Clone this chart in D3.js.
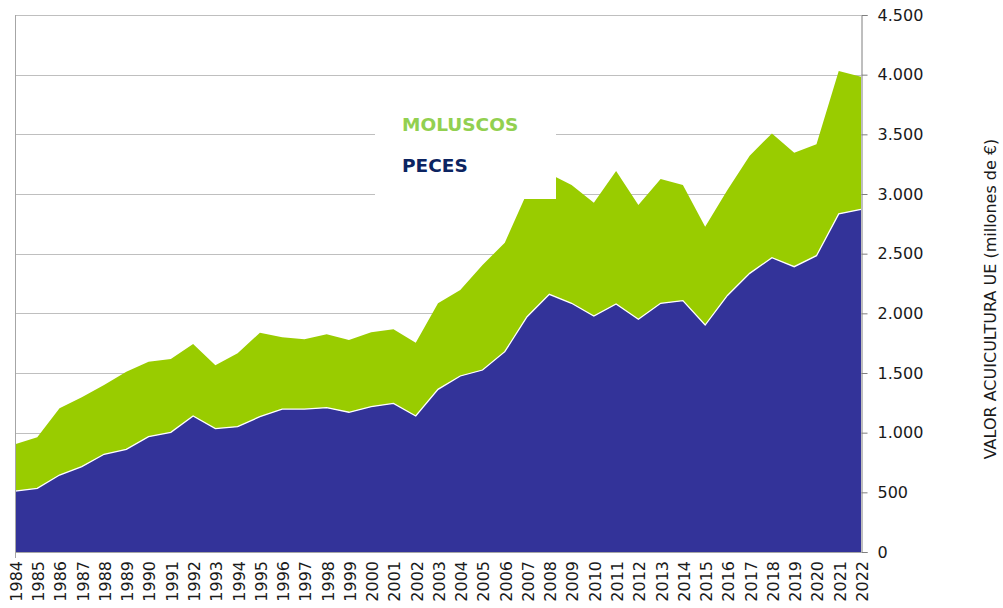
<!DOCTYPE html>
<html lang="es">
<head>
<meta charset="utf-8">
<script src="https://d3js.org/d3.v7.min.js"></script>
<style>
  body { margin: 0; background: #fff; }
  text { font-family: "DejaVu Sans", Verdana, sans-serif; }
</style>
</head>
<body>
<div id="chart"></div>
<script>
  // Years on the x axis
  const years = [1984, 1985, 1986, 1987, 1988, 1989, 1990, 1991, 1992, 1993,
    1994, 1995, 1996, 1997, 1998, 1999, 2000, 2001, 2002, 2003,
    2004, 2005, 2006, 2007, 2008, 2009, 2010, 2011, 2012, 2013,
    2014, 2015, 2016, 2017, 2018, 2019, 2020, 2021, 2022];

  // Valor (millones de €)
  const peces = [511, 534, 645, 715, 819, 860, 966, 1003, 1140, 1034,
    1050, 1134, 1198, 1198, 1209, 1171, 1218, 1246, 1140, 1363,
    1475, 1525, 1679, 1972, 2159, 2084, 1978, 2078, 1950, 2084,
    2106, 1902, 2150, 2335, 2466, 2391, 2483, 2833, 2872];

  const moluscos = [391, 427, 559, 581, 581, 651, 629, 614, 603, 530,
    615, 704, 601, 584, 615, 606, 623, 620, 614, 722,
    721, 880, 913, 1038, 1011, 991, 949, 1115, 958, 1042,
    970, 824, 884, 986, 1042, 955, 933, 1198, 1111];

  const yTicks = [0, 500, 1000, 1500, 2000, 2500, 3000, 3500, 4000, 4500];

  const seriesNames = ["MOLUSCOS", "PECES"];
  const seriesColors = {PECES: "#333399", MOLUSCOS: "#99cc00"};

  const svgWidth = 1003, svgHeight = 608;
  const margin = {top: 15, right: 142, bottom: 56, left: 15};
  const width = svgWidth - margin.left - margin.right;
  const height = svgHeight - margin.top - margin.bottom;

  const svg = d3.select("#chart")
    .append("svg")
    .attr("width", svgWidth)
    .attr("height", svgHeight);

  const g = svg.append("g")
    .attr("transform", "translate(" + margin.left + "," + margin.top + ")");

  const x = d3.scalePoint().domain(years).range([0, width]);
  const y = d3.scaleLinear().domain([0, 4500]).range([height, 0]);

  const locale = d3.formatLocale({decimal: ",", thousands: ".", grouping: [3], currency: ["", "€"]});
  const fmt = locale.format(",d");

  const table = years.map((yr, i) => ({year: yr, peces: peces[i], moluscos: moluscos[i]}));
  const stacked = d3.stack().keys(["peces", "moluscos"])(table);

  // gridlines
  g.append("g").selectAll("line").data(yTicks).enter().append("line")
    .attr("x1", 0).attr("x2", width)
    .attr("y1", d => Math.round(y(d)) + 0.5).attr("y2", d => Math.round(y(d)) + 0.5)
    .attr("stroke", "#bfbfbf");

  const area = d3.area()
    .x(d => x(d.data.year))
    .y0(d => y(d[0]))
    .y1(d => y(d[1]));

  g.append("path").datum(stacked[1])
    .attr("fill", seriesColors.MOLUSCOS)
    .attr("d", area);
  g.append("path").datum(stacked[0])
    .attr("fill", seriesColors.PECES)
    .attr("d", area);

  // white edge on top of peces
  g.append("path").datum(stacked[0])
    .attr("fill", "none")
    .attr("stroke", "#fff")
    .attr("stroke-width", 1.3)
    .attr("d", d3.line().x(d => x(d.data.year)).y(d => y(d[1])));

  // legend box (sits over the plot)
  g.append("rect")
    .attr("x", 360).attr("y", 80)
    .attr("width", 181).attr("height", 104)
    .attr("fill", "#fff");

  g.append("text").attr("x", 387).attr("y", 116)
    .attr("fill", "#92d050").attr("font-weight", "bold").attr("font-size", "18.5px")
    .text(seriesNames[0]);
  g.append("text").attr("x", 387).attr("y", 157)
    .attr("fill", "#0c2461").attr("font-weight", "bold").attr("font-size", "18.5px")
    .text(seriesNames[1]);

  // left edge and bottom line
  g.append("line").attr("x1", 0.5).attr("x2", 0.5).attr("y1", 0).attr("y2", height + 6)
    .attr("stroke", "#a6a6a6");
  g.append("line").attr("x1", 0).attr("x2", width).attr("y1", height + 0.5).attr("y2", height + 0.5)
    .attr("stroke", "#a6a6a6");

  // right axis
  const yAxis = g.append("g")
    .attr("transform", "translate(" + (width + 0.5) + ",0)")
    .call(d3.axisRight(y).tickValues(yTicks).tickSize(6).tickPadding(10).tickFormat(fmt));
  yAxis.select(".domain").attr("stroke", "#7f7f7f");
  yAxis.selectAll(".tick line").attr("stroke", "#7f7f7f");
  yAxis.selectAll("text").attr("font-size", "16px").attr("fill", "#1a1a1a")
    .style("font-family", "'DejaVu Sans', Verdana, sans-serif");

  // bottom axis (years rotated)
  const xAxis = g.append("g")
    .attr("transform", "translate(0," + height + ")")
    .call(d3.axisBottom(x).tickSize(0).tickFormat(d => d));
  xAxis.select(".domain").remove();
  xAxis.selectAll("text")
    .attr("transform", "rotate(-90)")
    .attr("x", -9).attr("y", 0).attr("dy", "0.4em")
    .style("text-anchor", "end")
    .attr("font-size", "16px").attr("fill", "#1a1a1a")
    .style("font-family", "'DejaVu Sans', Verdana, sans-serif");

  // axis title
  svg.append("text")
    .attr("transform", "translate(996," + 299 + ")rotate(-90)")
    .attr("text-anchor", "middle")
    .attr("font-size", "16px").attr("fill", "#1a1a1a")
    .text("VALOR ACUICULTURA UE (millones de €)");
</script>
</body>
</html>
